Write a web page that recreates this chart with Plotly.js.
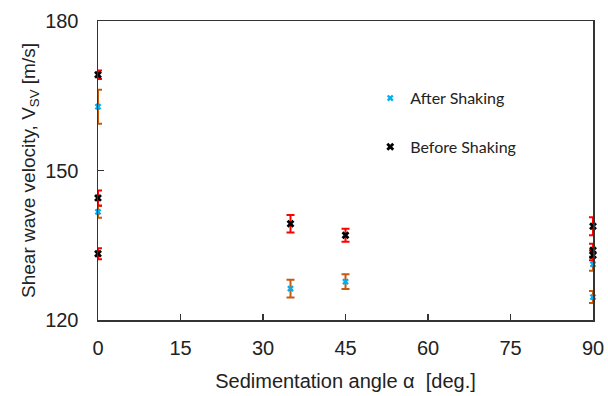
<!DOCTYPE html>
<html>
<head>
<meta charset="utf-8">
<script src="https://cdn.plot.ly/plotly-3.0.1.min.js"></script>
<style>html,body{margin:0;padding:0;background:#fff;}#chart{width:608px;height:396px;}</style>
</head>
<body>
<div id="chart"></div>
<script>
// Data
var angleAfter = [0, 0, 35, 45, 90, 90];
var vsAfter = [162.8, 141.7, 126.3, 127.7, 131.2, 124.6];
var errAfter = [3.4, 1.2, 1.8, 1.5, 1.3, 1.2];

var angleBefore = [0, 0, 0, 35, 45, 90, 90, 90];
var vsBefore = [169.2, 144.5, 133.3, 139.3, 137.0, 138.8, 134.0, 133.0];
var errBefore = [0.85, 1.5, 1.1, 1.75, 1.3, 1.8, 1.3, 1.0];

var xTicks = [0, 15, 30, 45, 60, 75, 90];
var yTicks = [120, 150, 180];

var traces = [
  {
    x: angleAfter, y: vsAfter, type: 'scatter', mode: 'markers', name: 'After Shaking',
    marker: {symbol: 'x', size: 6, color: '#00B0F0'},
    error_y: {type: 'data', array: errAfter, visible: true, color: '#C55A11', thickness: 2, width: 4},
    cliponaxis: false, legend: 'legend'
  },
  {
    x: angleBefore, y: vsBefore, type: 'scatter', mode: 'markers', name: 'Before Shaking',
    marker: {symbol: 'x', size: 7, color: '#000000'},
    error_y: {type: 'data', array: errBefore, visible: true, color: '#FF0000', thickness: 2, width: 4},
    cliponaxis: false, legend: 'legend2'
  }
];

var axisFont = {family: 'Liberation Sans, Arial, sans-serif', size: 20, color: '#222'};

var layout = {
  width: 608, height: 396,
  margin: {l: 98, r: 15, t: 21, b: 76},
  paper_bgcolor: '#fff', plot_bgcolor: '#fff',
  showlegend: true,
  xaxis: {
    range: [0, 90], tickvals: xTicks, ticktext: xTicks.map(String),
    ticks: 'inside', ticklen: 6, tickwidth: 1.3, tickcolor: '#333',
    showline: true, linecolor: '#333', linewidth: 1.5, mirror: true,
    showgrid: false, zeroline: false,
    tickfont: axisFont, ticklabelstandoff: 9,
    title: {text: 'Sedimentation angle α  [deg.]', font: axisFont, standoff: 16}
  },
  yaxis: {
    range: [120, 180], tickvals: yTicks, ticktext: yTicks.map(String),
    ticks: 'inside', ticklen: 6, tickwidth: 1.3, tickcolor: '#333',
    showline: true, linecolor: '#333', linewidth: 1.5, mirror: true,
    showgrid: false, zeroline: false,
    tickfont: axisFont, ticklabelstandoff: 14,
    title: {text: 'Shear wave velocity, V<sub>SV</sub> [m/s]', font: {family: 'Liberation Sans, Arial, sans-serif', size: 19, color: '#222'}, standoff: 4}
  },
  legend: {
    x: 0.55, y: 0.742, xanchor: 'left', yanchor: 'middle',
    bgcolor: 'rgba(0,0,0,0)', borderwidth: 0,
    font: {family: 'Lato, Open Sans, sans-serif', size: 16, color: '#222'}
  },
  legend2: {
    x: 0.55, y: 0.579, xanchor: 'left', yanchor: 'middle',
    bgcolor: 'rgba(0,0,0,0)', borderwidth: 0,
    font: {family: 'Lato, Open Sans, sans-serif', size: 16, color: '#222'}
  }
};

Plotly.newPlot('chart', traces, layout, {displayModeBar: false, staticPlot: true});
</script>
</body>
</html>
